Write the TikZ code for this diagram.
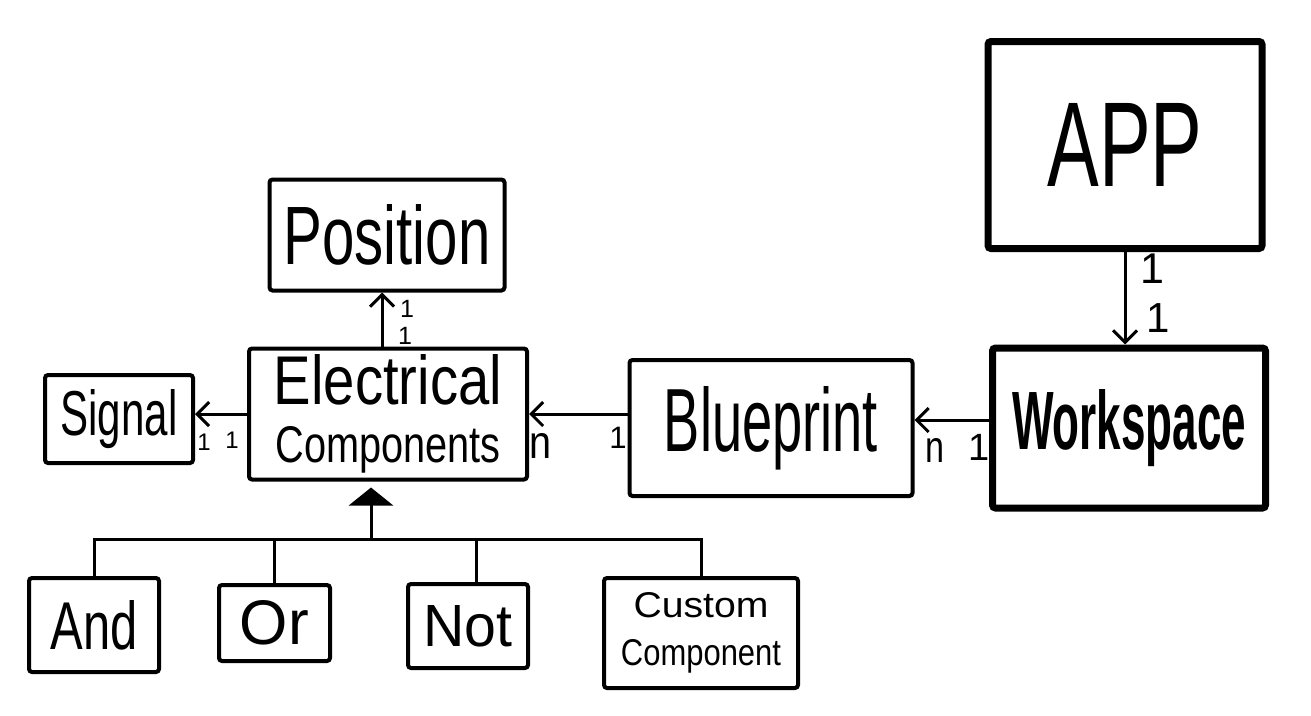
\documentclass[tikz,border=0pt]{standalone}
\usepackage{fontspec}
\setmainfont{Liberation Sans}
\usepackage{graphicx}
\usetikzlibrary{arrows.meta}
\newcommand\hwt[3]{\resizebox{#1pt}{#2pt}{#3}}
\newcommand\fs[1]{\fontsize{#1}{#1}\selectfont}
\begin{document}
\begin{tikzpicture}[x=1pt,y=-1pt,
  box/.style={draw, line width=4pt, rounded corners=3pt, inner sep=0pt, align=center},
  bigbox/.style={box, line width=7pt},
  conn/.style={line width=3pt},
  arr/.style={conn, -{Straight Barb[length=12pt,width=24pt,line width=3pt]}},
  lbl/.style={inner sep=0pt},
]
\useasboundingbox (0,0) rectangle (1311,715);

% class boxes
\node[box, minimum width=235pt, minimum height=111pt] (pos) at (387,235) {\hwt{207}{60}{Position}};
\node[box, minimum width=278pt, minimum height=131pt] (ec) at (388,414) {\hwt{228}{50}{Electrical}\\[21pt]\hwt{225}{36}{Components}};
\node[box, minimum width=148pt, minimum height=88pt] (sig) at (119,419) {\hwt{117}{46}{Signal}};
\node[box, minimum width=283pt, minimum height=136pt] (bp) at (771,428) {\hwt{214}{65}{Blueprint}};
\node[bigbox, minimum width=273pt, minimum height=160pt] (ws) at (1129,428) {\hwt{234}{60}{\bfseries Workspace}};
\node[bigbox, minimum width=274pt, minimum height=207pt] (app) at (1125,145) {\hwt{155}{83}{APP}};
\node[box, minimum width=130pt, minimum height=94pt] (and) at (94,625) {\hwt{87}{49}{And}};
\node[box, minimum width=111pt, minimum height=76pt] (or) at (274.5,623) {\hwt{69}{44}{Or}};
\node[box, minimum width=120pt, minimum height=84pt] (not) at (468,626) {\hwt{89}{41}{Not}};
\node[box, minimum width=194pt, minimum height=110pt] (cust) at (701,633) {\hwt{135}{25}{Custom}\\[21pt]\hwt{160}{26}{Component}};

% inheritance tree
\coordinate (jn) at (371,539);
\draw[conn, -{Triangle[length=18pt,width=44pt]}, shorten >=6pt] (jn) -- (jn |- ec.south);
\draw[conn] (and.north) |- (jn) -| (cust.north);
\draw[conn] (or.north) -- (or.north |- jn);
\draw[conn] ([xshift=8pt]not.north) -- ([xshift=8pt]not.north |- jn);

% associations
\draw[arr] ([xshift=-6pt]ec.north) -- ([xshift=-6pt]ec.north |- pos.south);
\draw[arr] (ec.west) -- (ec.west -| sig.east);
\draw[arr] (bp.west |- ec.east) -- (ec.east);
\draw[arr] ([yshift=8pt]ws.west) -- ([yshift=8pt]bp.east);
\draw[arr] (app.south) -- (app.south |- ws.north);

% multiplicities
\node[lbl, font=\fs{25}] (l1) at (407,309) {1};
\node[lbl, font=\fs{25}] (l2) at (405,336) {1};
\node[lbl, font=\fs{24}] (l3) at (204,442) {1};
\node[lbl, font=\fs{24}] (l4) at (232,440) {1};
\node[lbl] (l5) at (540,446) {\hwt{22}{25}{n}};
\node[lbl, font=\fs{31}] (l6) at (618,438) {1};
\node[lbl] (l7) at (935,450) {\hwt{19}{24}{n}};
\node[lbl, font=\fs{38}] (l8) at (979,447) {1};
\node[lbl, font=\fs{43}] (l9) at (1152,269) {1};
\node[lbl, font=\fs{42}] (l10) at (1158,318) {1};
\end{tikzpicture}
\end{document}
